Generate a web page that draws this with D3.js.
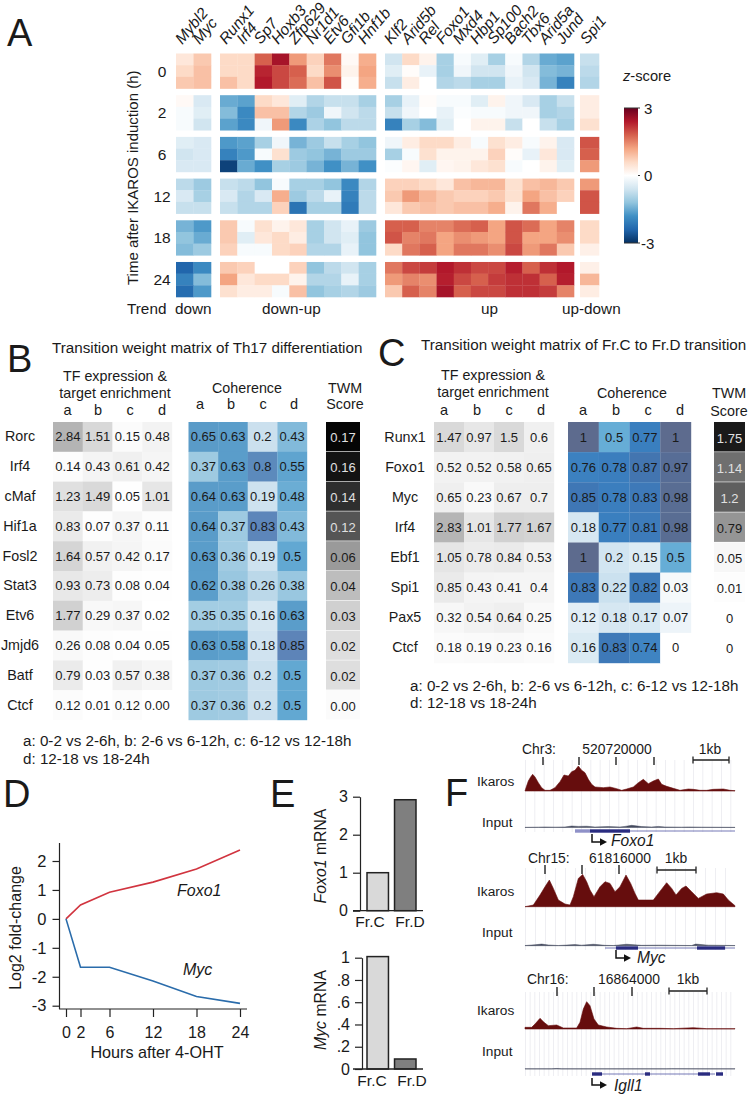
<!DOCTYPE html>
<html><head><meta charset="utf-8">
<script src="https://cdn.jsdelivr.net/npm/d3@7/dist/d3.min.js"></script>
<style>html,body{margin:0;padding:0;background:#fff}svg{display:block}text{font-family:"Liberation Sans",Arial,sans-serif;fill:#1a1a1a}</style>
</head><body><svg id="c" width="750" height="1097"></svg>
<script>
// ---- Panel A data
const timepoints=["0","2","6","12","18","24"];
const genesDown=["Mybl2","Myc"];
const genesDownUp=["Runx1","Irf4","Sp7","Hoxb3","Zfp629","Nr1d1","Etv6","Gfi1b","Hnf1b"];
const genesUp=["Klf2","Arid5b","Rel","Foxo1","Mxd4","Hbp1","Sp100","Bach2","Tbx6","Arid5a","Jund"];
const genesUpDown=["Spi1"];
const zDown=[
[.4,.8],[.6,.9],[.8,.9],
[.1,-.5],[-.1,-.4],[-.1,-.6],
[-.4,-.5],[-.6,-.5],[-.5,-.5],
[-.8,-1.1],[-.5,-1],[-.7,-.7],
[-1.4,-1.7],[-1.2,-1.5],[-1.3,-1.1],
[-2.4,-1.9],[-2,-1.3],[-2.3,-1.7]];
const zDownUp=[
[.6,.6,1.8,2.5,1.3,.7,1.6,.1,1.1],[.6,.6,2.3,2,1.8,.6,1.4,.2,1.2],[.9,.6,2.4,2,1.7,.9,1.9,.05,1.1],
[-1.5,-1.6,.6,.4,-.4,-.9,-.7,-.7,-1],[-1.3,-1.9,.9,.9,-.9,-1.1,-.2,-.6,-.8],[-1.6,-1.9,-.2,1.3,-1.9,-.95,-1.2,-.8,-.8],
[-1.7,-1.6,-1,-.2,-1.4,-1.1,-.7,-1,-1.2],[-2,-1.7,-.1,.5,-1.1,-1.2,-1.4,-1.1,-1.1],[-2.8,-1.5,-1.8,-1,-1.1,-1.4,-1.8,-1.4,-1.8],
[-.7,-.8,-1.2,-.1,-1,-1,-1.2,-1.9,-.9],[-.5,-.9,-.5,1.1,-1.1,-.8,-.3,-2,-.8],[-.7,-.9,-.9,.7,-2.2,-1,-1,-2.1,-.8],
[.8,-.1,.5,.2,.4,-1,-.6,-.3,-1.1],[.8,-.4,.4,.6,.3,-1,-.6,-.4,-1.2],[.7,-.1,-.1,.6,.7,-.9,-.9,-.3,-1.2],
[.8,.7,0,0,.7,-1.2,-.8,-.6,-1],[1.2,.4,.6,.6,.2,-.9,-.9,-.3,-1],[.5,.3,.3,-.1,.9,-1.2,-1,-.9,-1.1]];
const zUp=[
[-.6,.6,.2,-1,-.1,-.4,-1,-.1,-.9,-1.5,-1.6],[-.4,.05,-.3,-1,-.2,-.6,-.6,-.2,-.6,-1.3,-1.4],[-.7,.3,0,-.9,-.8,-1,-1,-.3,-.5,-1.4,-2],
[-1,-.3,.05,-.1,-.1,-.4,.2,-.2,-.5,-1,-.7],[-.7,-.2,0,-.3,-.05,-.1,-.1,-.2,-.2,-1,-.9],[-2,-1,-1.3,-.4,0,.2,.2,-.7,0,-.7,-1],
[-.2,.3,.6,.6,.3,-.1,.5,.3,-.1,.2,-.5],[-1,-.1,.5,.2,.2,.2,.7,.05,-.3,.4,-.5],[-.05,.15,-.4,.15,.2,.4,.5,-.1,0,.2,-.4],
[.7,.7,.6,.4,.9,1,1,.5,.9,1,.8],[.8,1.3,1,.8,.7,.7,.8,.5,1.2,.9,.7],[.4,.8,.9,.8,.9,.9,1.1,.2,1.6,1.1,0],
[1.8,1.8,1.5,1.5,1.7,1.8,1.2,1.9,1.7,1.2,1.5],[1.9,1.5,1.6,1.2,1.4,1.3,1.2,1.9,1.2,1.2,1.4],[.6,1.6,1.8,1.2,1.6,1.6,1.4,2,1.3,1.6,.8],
[1.6,2,2.1,2.4,2.2,2,2,2.35,1.8,2.2,2.4],[1.3,1.5,1.4,2.35,2,1.8,2.1,2.2,2.2,1.8,2.35],[.8,1.8,1.5,2.5,1.8,2,2,2.2,2.2,2.1,1.5]];
const zUpDown=[[-.7],[-.8],[-.9],[.3],[.3],[.5],[1.9],[1.8],[1.3],[1.3],[1.9],[1.9],[.6],[.6],[.25],[.25],[1],[.3]];
// ---- Panels B, C data
const tfB=["Rorc","Irf4","cMaf","Hif1a","Fosl2","Stat3","Etv6","Jmjd6","Batf","Ctcf"];
const exprB=[["2.84","1.51","0.15","0.48"],["0.14","0.43","0.61","0.42"],["1.23","1.49","0.05","1.01"],["0.83","0.07","0.37","0.11"],["1.64","0.57","0.42","0.17"],["0.93","0.73","0.08","0.04"],["1.77","0.29","0.37","0.02"],["0.26","0.08","0.04","0.05"],["0.79","0.03","0.57","0.38"],["0.12","0.01","0.12","0.00"]];
const cohB=[["0.65","0.63","0.2","0.43"],["0.37","0.63","0.8","0.55"],["0.64","0.63","0.19","0.48"],["0.64","0.37","0.83","0.43"],["0.63","0.36","0.19","0.5"],["0.62","0.38","0.26","0.38"],["0.35","0.35","0.16","0.63"],["0.63","0.58","0.18","0.85"],["0.37","0.36","0.2","0.5"],["0.37","0.36","0.2","0.5"]];
const twmB=["0.17","0.16","0.14","0.12","0.06","0.04","0.03","0.02","0.02","0.00"];
const tfC=["Runx1","Foxo1","Myc","Irf4","Ebf1","Spi1","Pax5","Ctcf"];
const exprC=[["1.47","0.97","1.5","0.6"],["0.52","0.52","0.58","0.65"],["0.65","0.23","0.67","0.7"],["2.83","1.01","1.77","1.67"],["1.05","0.78","0.84","0.53"],["0.85","0.43","0.41","0.4"],["0.32","0.54","0.64","0.25"],["0.18","0.19","0.23","0.16"]];
const cohC=[["1","0.5","0.77","1"],["0.76","0.78","0.87","0.97"],["0.85","0.78","0.83","0.98"],["0.18","0.77","0.81","0.98"],["1","0.2","0.15","0.5"],["0.83","0.22","0.82","0.03"],["0.12","0.18","0.17","0.07"],["0.16","0.83","0.74","0"]];
const twmC=["1.75","1.14","1.2","0.79","0.05","0.01","0","0"];
const subCols=["a","b","c","d"];
// ---- Panel D data
const hours=[0,2,6,12,18,24];
const foxo1Fold=[0,.48,.92,1.27,1.72,2.38];
const mycFold=[0,-1.67,-1.67,-2.15,-2.68,-2.92];
// ---- Panel E data
const fractions=["Fr.C","Fr.D"];
const foxo1Mrna=[1,2.92];
const mycMrna=[1.01,.09];
// ---- Panel F data (position along the 0-630 window, signal 0-100)
const foxo1Pos=[0,3,10,17,23,30,40,50,60,75,90,105,117,130,140,150,160,170,180,190,200,210,235,255,275,290,305,325,340,355,370,385,400,410,425,445,465,490,505,525,545,565,595,615,630];
const foxo1Sig=[0,10,30,42,50,42,25,10,2,2,10,28,48,45,58,62,75,62,55,35,20,12,10,12,7,2,6,12,25,35,22,30,36,20,14,8,2,6,5,2,2,5,6,2,1];
const mycPos=[0,25,45,60,73,85,100,120,135,145,160,173,185,195,207,225,240,255,270,285,303,317,330,340,385,400,425,440,453,470,483,500,520,545,575,595,610,630];
const mycSig=[0,5,35,60,80,55,20,8,5,30,85,97,75,50,30,60,75,70,45,60,95,70,40,20,20,40,72,55,35,55,62,45,25,38,42,38,20,3];
const igllPos=[0,20,30,45,57,70,95,115,155,165,175,185,195,207,220,245,275,305,335,355,405,445,505,545,630];
const igllSig=[5,5,15,32,20,10,12,3,3,20,60,82,70,30,12,6,2,1,6,2,2,1,4,1,1];
const foxo1InPos=[0,40,60,90,120,140,160,185,210,250,285,300,320,350,380,400,420,470,490,530,630];
const foxo1InSig=[1,2,3,2,3,8,6,7,3,5,3,6,12,5,3,6,3,2,3,2,1];
const mycInPos=[0,30,50,70,100,150,170,205,240,265,305,350,400,500,512,550,630];
const mycInSig=[1,5,9,4,1,6,3,8,2,1,8,2,3,1,9,3,1];
const igllInPos=[0,80,95,110,300,425,440,540,630];
const igllInSig=[1,1,3,1,1,1,2,1,1];
// ----
const svg=d3.select("#c");
const txt=(x,y,s,o={})=>{const t=svg.append("text").attr("x",x).attr("y",y).text(s).attr("font-size",o.size||14).attr("text-anchor",o.anchor||"start");
 if(o.italic)t.attr("font-style","italic"); if(o.rot!=null)t.attr("transform",`rotate(${o.rot} ${x} ${y})`); if(o.fill)t.style("fill",o.fill); return t;};
[["A",7,46],["B",7,372],["C",378,366],["D",3,807],["E",270,807],["F",445,806]].forEach(d=>txt(d[1],d[2],d[0],{size:38}));

// === A
const zColor=d3.scaleLinear().domain([-3,-2.4,-1.8,-1.2,-.6,0,.6,1.2,1.8,2.4,3])
 .range(["#053061","#2166ac","#4090c5","#92c5de","#d1e5f0","#ffffff","#fddbc7","#f4a582","#d6604d","#b2182b","#67001f"]);
const tY=d3.scaleBand().domain(timepoints).range([53.5,297]).paddingInner(.16);
const rY=d3.scaleBand().domain([0,1,2]).range([0,tY.bandwidth()]);
const heatGroups=[[genesDown,zDown,176,211],[genesDownUp,zDownUp,220,376],[genesUp,zUp,385,574],[genesUpDown,zUpDown,580,599]];
heatGroups.forEach(([genes,vals,x0,x1])=>{
 const x=d3.scaleBand().domain(genes).range([x0,x1]);
 const cells=[];vals.forEach((row,ri)=>row.forEach((v,ci)=>cells.push({v,gene:genes[ci],t:timepoints[Math.floor(ri/3)],r:ri%3})));
 svg.append("g").selectAll("rect").data(cells).join("rect")
  .attr("x",d=>x(d.gene)).attr("width",x.bandwidth()+.3)
  .attr("y",d=>tY(d.t)+rY(d.r)).attr("height",rY.bandwidth()+.3).attr("fill",d=>zColor(d.v));
 genes.forEach(g=>txt(x(g)+x.bandwidth()/2-2.5,45,g,{italic:true,rot:-50,size:15.5}));
});
timepoints.forEach(t=>txt(162,tY(t)+tY.bandwidth()/2+5.5,t,{size:15.5,anchor:"middle"}));
txt(138,285,"Time after IKAROS induction (h)",{size:15,rot:-90});
[["Trend",127],["down",175],["down-up",262],["up",481],["up-down",562]].forEach(d=>txt(d[1],314,d[0],{size:15.3}));
const zs=txt(623,81,"",{size:14.7});zs.append("tspan").attr("font-style","italic").text("z");zs.append("tspan").text("-score");
const defs=svg.append("defs");const lg=defs.append("linearGradient").attr("id","zg").attr("x1",0).attr("x2",0).attr("y1",1).attr("y2",0);
d3.range(-3,3.01,.6).forEach(v=>lg.append("stop").attr("offset",(v+3)/6).attr("stop-color",zColor(v)));
const cbY=d3.scaleLinear().domain([-3,3]).range([243,108]);
svg.append("rect").attr("x",624).attr("y",108).attr("width",14).attr("height",135).attr("fill","url(#zg)");
[-3,0,3].forEach(v=>{svg.append("line").attr("x1",v==0?638:624).attr("x2",640).attr("y1",cbY(v)).attr("y2",cbY(v)).attr("stroke","#333");
 txt(v==-3?641:644,cbY(v)+5.5,d3.format("d")(v).replace("−","-"),{size:15});});

// === B, C matrices
function matrix(o){
 const rows=d3.scaleBand().domain(o.tf).range(o.yr);
 const xE=d3.scaleBand().domain(subCols).range(o.ex), xC=d3.scaleBand().domain(subCols).range(o.cx);
 const eCol=d3.scaleLinear().domain([0,1,3]).range(["#ffffff","#e6e6e6","#b0b0b0"]);
 const grid=(vals,x,col)=>{
  const cells=[];vals.forEach((r,i)=>r.forEach((s,j)=>cells.push({s,row:o.tf[i],c:subCols[j]})));
  const g=svg.append("g");
  g.selectAll("rect").data(cells).join("rect").attr("x",d=>x(d.c)).attr("y",d=>rows(d.row)).attr("width",x.bandwidth()+.2).attr("height",rows.bandwidth()+.2).attr("fill",d=>col(+d.s));
  g.selectAll("text").data(cells).join("text").attr("x",d=>x(d.c)+x.bandwidth()/2).attr("y",d=>rows(d.row)+rows.bandwidth()/2+4.5).attr("text-anchor","middle").attr("font-size",13).text(d=>d.s);
 };
 grid(o.expr,xE,eCol);
 grid(o.coh,xC,o.cohColor);
 const tg=svg.append("g");
 tg.selectAll("rect").data(o.twm).join("rect").attr("x",o.tx[0]).attr("width",o.tx[1]-o.tx[0]).attr("y",(d,i)=>rows(o.tf[i])).attr("height",rows.bandwidth()-.6).attr("fill",d=>o.twmColor(+d));
 tg.selectAll("text").data(o.twm).join("text").attr("x",(o.tx[0]+o.tx[1])/2).attr("y",(d,i)=>rows(o.tf[i])+rows.bandwidth()/2+5.5).attr("text-anchor","middle").attr("font-size",13).text(d=>d).style("fill",d=>+d>=o.white?"#e0e0e0":"#1a1a1a");
 o.tf.forEach(t=>txt(o.labelX,rows(t)+rows.bandwidth()/2+4.5,t,{size:14.3,anchor:"middle"}));
 o.eHead.forEach((x,i)=>txt(x,o.hy[0],subCols[i],{size:14.5,anchor:"middle"}));
 o.cHead.forEach((x,i)=>txt(x,o.hy[1],subCols[i],{size:14.5,anchor:"middle"}));
}
txt(52,353,"Transition weight matrix of Th17 differentiation",{size:15.2});
txt(115,381,"TF expression &",{size:14.3,anchor:"middle"});txt(115,398,"target enrichment",{size:14.3,anchor:"middle"});
txt(247,393,"Coherence",{size:14.3,anchor:"middle"});txt(345,393,"TWM",{size:14.3,anchor:"middle"});txt(345,409,"Score",{size:14.3,anchor:"middle"});
matrix({tf:tfB,expr:exprB,coh:cohB,twm:twmB,yr:[422,720],ex:[53,172],cx:[188.5,307],tx:[326,360],labelX:20,white:.1,
 eHead:[67.5,98,130,162],cHead:[200,231,263,294],hy:[415,409],
 cohColor:d3.scaleLinear().domain([0,.2,.37,.5,.63,.85,1]).range(["#ffffff","#cbe0ee","#9ecae1","#62a8d2","#5a9dca","#5d84b8","#5a6b90"]),
 twmColor:d3.scaleLinear().domain([0,.02,.03,.04,.06,.12,.14,.17]).range(["#fbfbfb","#dedede","#d0d0d0","#bdbdbd","#9a9a9a","#555555","#2e2e2e","#050505"])});
txt(23,746,"a: 0-2 vs 2-6h, b: 2-6 vs 6-12h, c: 6-12 vs 12-18h",{size:15.2});txt(23,764,"d: 12-18 vs 18-24h",{size:15.2});

txt(421,350,"Transition weight matrix of Fr.C to Fr.D transition",{size:15.2});
txt(493,380,"TF expression &",{size:14.3,anchor:"middle"});txt(493,397,"target enrichment",{size:14.3,anchor:"middle"});
txt(632,398,"Coherence",{size:14.3,anchor:"middle"});txt(729,398,"TWM",{size:14.3,anchor:"middle"});txt(729,416,"Score",{size:14.3,anchor:"middle"});
matrix({tf:tfC,expr:exprC,coh:cohC,twm:twmC,yr:[422,663],ex:[434,554],cx:[568,691],tx:[714,745],labelX:405,white:1,
 eHead:[444,477,509,541],cHead:[583,616,648,680],hy:[415,415],
 cohColor:d3.scaleLinear().domain([0,.03,.2,.5,.77,.85,1]).range(["#ffffff","#f5f9fb","#d2e5f1","#66add6","#3a7fbf","#3f77b5","#5d6b8e"]),
 twmColor:d3.scaleLinear().domain([0,.05,.79,1.14,1.2,1.75]).range(["#ffffff","#f7f7f7","#959595","#6f6f6f","#5f5f5f","#1a1a1a"])});
txt(410,691,"a: 0-2 vs 2-6h, b: 2-6 vs 6-12h, c: 6-12 vs 12-18h",{size:15.2});txt(410,708,"d: 12-18 vs 18-24h",{size:15.2});

// === D
const dx=d3.scaleLinear().domain([0,24]).range([66,240]);
const dy=d3.scaleLinear().domain([-3,2]).range([1005.7,861]);
const axisStyle=g=>{g.selectAll("path,line").attr("stroke","#222").attr("stroke-width",1.2);g.selectAll("text").attr("font-family","Liberation Sans").style("fill","#1a1a1a");};
svg.append("g").attr("transform","translate(59.5,0)").call(d3.axisLeft(dy).tickValues([-3,-2,-1,0,1,2]).tickSize(7).tickPadding(6).tickSizeOuter(0).tickFormat(d3.format("d")))
 .call(g=>{g.select("path").attr("d","M0,843V1009");}).call(axisStyle).selectAll("text").attr("font-size",16.5).text(d=>String(d));
svg.append("g").attr("transform","translate(0,1009)").call(d3.axisBottom(dx).tickValues(hours).tickSize(8).tickSizeOuter(0).tickFormat(d3.format("d")))
 .call(g=>{g.select("path").attr("d","M59,0H247");}).call(axisStyle).selectAll("text").attr("font-size",16).attr("dy","1.15em");
const line=d3.line().x((d,i)=>dx(hours[i])).y(d=>dy(d));
svg.append("path").attr("d",line(foxo1Fold)).attr("fill","none").attr("stroke","#d1343f").attr("stroke-width",1.6);
svg.append("path").attr("d",line(mycFold)).attr("fill","none").attr("stroke","#2a6cab").attr("stroke-width",1.6);
txt(177,896,"Foxo1",{size:16,italic:true});txt(183,975,"Myc",{size:16,italic:true});
txt(157,1058,"Hours after 4-OHT",{size:16.2,anchor:"middle"});
txt(21,928,"Log2 fold-change",{size:16,anchor:"middle",rot:-90});

// === E
function bars(o){
 const y=d3.scaleLinear().domain(o.dom).range(o.yr);
 const x=d3.scaleBand().domain(fractions).range([367,416]).paddingInner(.22);
 svg.append("g").attr("transform",`translate(${o.ax},0)`).call(d3.axisLeft(y).tickValues(o.ticks).tickSize(7).tickPadding(5).tickSizeOuter(0).tickFormat(o.fmt)).call(axisStyle).selectAll("text").attr("font-size",16);
 svg.append("g").selectAll("rect").data(o.vals).join("rect").attr("x",(d,i)=>x(fractions[i])).attr("width",x.bandwidth()).attr("y",d=>y(d)).attr("height",d=>y(0)-y(d))
  .attr("fill",(d,i)=>i?"#7f7f7f":"#d9d9d9").attr("stroke","#222").attr("stroke-width",1.5);
 svg.append("line").attr("x1",353).attr("x2",423).attr("y1",y(0)).attr("y2",y(0)).attr("stroke","#222").attr("stroke-width",1.3);
 o.lab.forEach((lx,i)=>txt(lx,o.ly,fractions[i],{size:15.5,anchor:"middle"}));
 const t=txt(326,o.tc,"",{size:15.8,anchor:"middle",rot:-90});t.append("tspan").attr("font-style","italic").text(o.gene);t.append("tspan").text(" mRNA");
}
bars({dom:[0,3],yr:[910.7,796.7],ax:360,ticks:[0,1,2,3],fmt:d3.format("d"),vals:foxo1Mrna,lab:[370,410],ly:927,gene:"Foxo1",tc:856});
bars({dom:[0,1],yr:[1069,957.7],ax:362,ticks:[0,.2,.4,.6,.8,1],fmt:d=>(d===0||d===1)?String(d):String(d).replace("0.","."),vals:mycMrna,lab:[372,412],ly:1086,gene:"Myc",tc:1010});

// === F
const fx=d3.scaleLinear().domain([0,630]).range([525,735]);
function track(o){
 const g=svg.append("g");
 d3.range(0,630,o.step).forEach(p=>g.append("line").attr("x1",fx(p)+.5).attr("x2",fx(p)+.5).attr("y1",o.gy[0]).attr("y2",o.gy[1]).attr("stroke","#eeeef2").attr("stroke-width",1));
 const sy=d3.scaleLinear().domain([0,100]).range([o.base,o.base-33.3]);
 const area=d3.area().x((d,i)=>fx(o.pos[i])).y0(o.base).y1(d=>sy(d));
 svg.append("path").attr("d",area(o.sig)).attr("fill","#660d0d").attr("stroke","#660d0d").attr("stroke-width",.6);
 const sy2=d3.scaleLinear().domain([0,100]).range([o.inBase,o.inBase-18]);
 const a2=d3.area().x((d,i)=>fx(o.inPos[i])).y0(o.inBase).y1(d=>sy2(d));
 svg.append("path").attr("d",a2(o.inSig)).attr("fill","#444a5e").attr("stroke","#444a5e").attr("stroke-width",.5);
 // ruler
 txt(o.chr[1],o.chr[2],o.chr[0],{size:13.9});txt(o.coord[1],o.chr[2],o.coord[0],{size:13.9,anchor:"middle"});txt(o.kb[0],o.chr[2],"1kb",{size:13.9,anchor:"middle"});
 o.tick.forEach(x=>svg.append("line").attr("x1",x).attr("x2",x).attr("y1",o.ty[0]).attr("y2",o.ty[1]).attr("stroke","#222").attr("stroke-width",1.4));
 const b=o.bar;svg.append("path").attr("d",`M${b[0]},${b[2]-3.5}v7M${b[0]},${b[2]}H${b[1]}M${b[1]},${b[2]-3.5}v7`).attr("stroke","#222").attr("stroke-width",1.3).attr("fill","none");
 txt(477,o.ly[0],"Ikaros",{size:13.7});txt(482,o.ly[1],"Input",{size:13.7});
 // gene model
 const m=o.model;svg.append("line").attr("x1",m.line[0]).attr("x2",m.line[1]).attr("y1",m.y).attr("y2",m.y).attr("stroke","#3b3f9a").attr("stroke-width",.7);
 m.exons.forEach(e=>svg.append("rect").attr("x",e[0]).attr("width",e[1]-e[0]).attr("y",m.y-1.7).attr("height",3.4).attr("fill",e[2]||"#2a2c80"));
 // arrow
 const A=o.arrow;svg.append("path").attr("d",`M${A[0]},${A[1]}V${A[2]}H${A[0]+9}`).attr("fill","none").attr("stroke","#111").attr("stroke-width",1.5);
 svg.append("path").attr("d",`M${A[0]+8},${A[2]-3.8}L${A[0]+15},${A[2]}L${A[0]+8},${A[2]+3.8}Z`).attr("fill","#111");
 txt(o.gene[1],o.gene[2],o.gene[0],{size:15.6,italic:true});
}
track({pos:foxo1Pos,sig:foxo1Sig,inPos:foxo1InPos,inSig:foxo1InSig,base:791,inBase:827.5,gy:[760,832],step:28,
 chr:["Chr3:",522,754],coord:["520720000",617],kb:[710],tick:[543,579,616,654],ty:[757,765],bar:[693,729,760],ly:[786,827],
 model:{y:831,line:[575,735],exons:[[575,590,"#8f91c8"],[590,630]]},arrow:[592,834,842],gene:["Foxo1",611,846]});
track({pos:mycPos,sig:mycSig,inPos:mycInPos,inSig:mycInSig,base:906.7,inBase:945.7,gy:[868,950],step:30,
 chr:["Chr15:",528,863],coord:["61816000",620],kb:[676],tick:[545,582,619],ty:[865,874],bar:[657,696,870],ly:[896,937],
 model:{y:948,line:[605,735],exons:[[616,638],[697,725]]},arrow:[616,950,958],gene:["Myc",637,963]});
track({pos:igllPos,sig:igllSig,inPos:igllInPos,inSig:igllInSig,base:1029,inBase:1069,gy:[992,1076],step:14,
 chr:["Chr16:",527,984],coord:["16864000",629],kb:[688],tick:[557,594,632],ty:[987,996],bar:[669,707,991],ly:[1015,1056],
 model:{y:1074,line:[592,715],exons:[[592,602],[645,650],[698,710],[716,723]]},arrow:[592,1078,1085],gene:["Igll1",614,1091]});
</script></body></html>
